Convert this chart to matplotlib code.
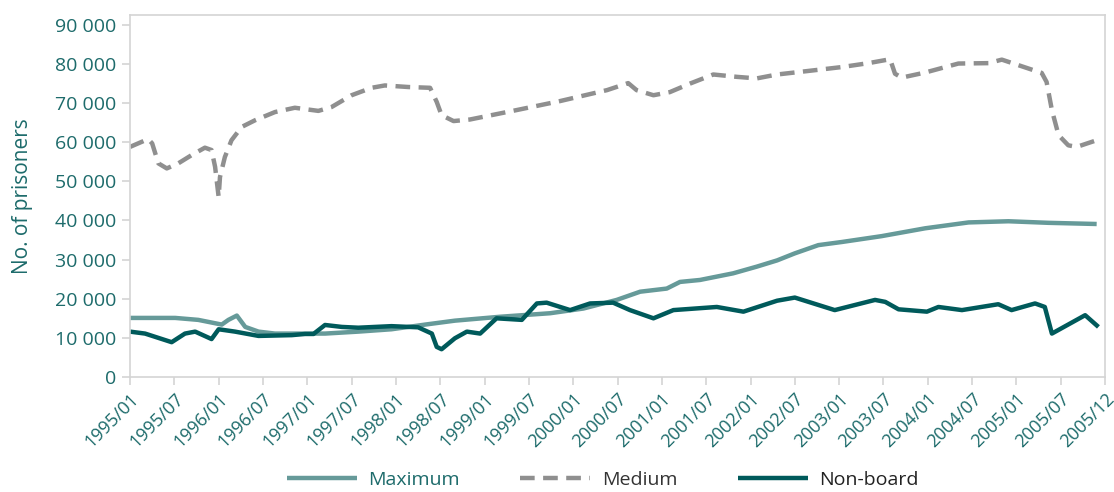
import matplotlib.pyplot as plt
from matplotlib.ticker import FuncFormatter

plt.rcParams['font.family'] = ['Open Sans', 'DejaVu Sans']

# x positions are in half-year steps from 1995/01 (one step per tick label)
tick_labels = ['1995/01', '1995/07', '1996/01', '1996/07', '1997/01', '1997/07',
               '1998/01', '1998/07', '1999/01', '1999/07', '2000/01', '2000/07',
               '2001/01', '2001/07', '2002/01', '2002/07', '2003/01', '2003/07',
               '2004/01', '2004/07', '2005/01', '2005/07', '2005/12']

medium_x = [0.0, 0.41, 0.5, 0.64, 0.83, 1.09, 1.39, 1.69, 1.84, 1.92, 2.0, 2.03,
            2.14, 2.29, 2.52, 2.82, 3.27, 3.72, 4.25, 4.55, 5.0, 5.45, 5.75, 6.28,
            6.77, 6.92, 7.03, 7.3, 7.67, 8.72, 9.7, 10.76, 11.24, 11.43, 11.81,
            12.18, 12.64, 13.16, 13.69, 14.14, 14.6, 15.3, 16.06, 16.66, 17.15,
            17.26, 17.41, 17.94, 18.69, 19.37, 19.67, 20.04, 20.57, 20.68, 20.8,
            20.95, 21.17, 21.36, 21.81]
medium_y = [58800, 60800, 59700, 54600, 53300, 54600, 56700, 58600, 58000, 53700,
            46000, 51100, 56200, 60500, 63900, 65600, 67700, 68800, 68000, 69000,
            72000, 73900, 74500, 74100, 73900, 70300, 66900, 65400, 65800, 68200,
            70500, 73300, 75100, 73300, 72000, 72800, 75000, 77300, 76700, 76300,
            77300, 78200, 79200, 80200, 81200, 77500, 76500, 77800, 80100, 80200,
            81100, 79700, 77700, 75400, 68200, 61800, 59200, 58800, 60500]

maximum_x = [0.0, 1.02, 1.54, 2.07, 2.22, 2.41, 2.6, 2.9, 3.27, 4.4, 5.15, 5.9,
             6.66, 7.33, 8.35, 9.48, 10.23, 10.98, 11.51, 12.11, 12.41, 12.86,
             13.61, 14.14, 14.6, 15.0, 15.53, 16.06, 16.96, 17.94, 18.92, 19.82,
             20.72, 21.81]
maximum_y = [15100, 15100, 14600, 13400, 14600, 15700, 12800, 11600, 11100, 11100,
             11600, 12200, 13400, 14400, 15400, 16300, 17500, 19700, 21800, 22600,
             24300, 24800, 26500, 28200, 29800, 31600, 33700, 34500, 36000, 38000,
             39500, 39800, 39400, 39100]

nonboard_x = [0.0, 0.34, 0.94, 1.24, 1.47, 1.84, 2.0, 2.37, 2.9, 3.65, 3.95, 4.14,
              4.4, 4.78, 5.15, 5.9, 6.5, 6.81, 6.92, 7.03, 7.33, 7.6, 7.9, 8.27,
              8.84, 9.18, 9.4, 9.93, 10.38, 10.9, 11.28, 11.81, 12.26, 13.24,
              13.84, 14.6, 15.0, 15.9, 16.81, 17.04, 17.34, 17.98, 18.24, 18.77,
              19.59, 19.89, 20.42, 20.64, 20.8, 21.55, 21.85]
nonboard_y = [11600, 11100, 8900, 11100, 11600, 9700, 12200, 11600, 10500, 10700,
              11000, 11000, 13300, 12800, 12600, 13000, 12700, 11100, 7700, 7100,
              9900, 11600, 11100, 15000, 14600, 18800, 19000, 17100, 18800, 19000,
              17100, 15000, 17100, 17900, 16700, 19500, 20300, 17100, 19700, 19200,
              17300, 16700, 17900, 17100, 18600, 17100, 18800, 17900, 11100, 15800,
              12800]

teal_text = '#1d6b6b'
grid_grey = '#d4d4d4'

fig = plt.figure(figsize=(11.14, 4.92), dpi=100)
ax = fig.add_axes([0.1167, 0.2337, 0.8753, 0.7358])

ax.plot(maximum_x, maximum_y, color='#669a99', lw=3.2, label='Maximum',
        solid_joinstyle='round', solid_capstyle='butt')
ax.plot(medium_x, medium_y, color='#8f8f8f', lw=3.2, label='Medium',
        linestyle=(0, (3.3, 1.9)), dash_capstyle='butt', dash_joinstyle='round')
ax.plot(nonboard_x, nonboard_y, color='#005a5b', lw=3.2, label='Non-board',
        solid_joinstyle='round', solid_capstyle='butt')

ax.set_xlim(0, len(tick_labels) - 1)
ax.set_ylim(0, 92500)
ax.set_xticks(range(len(tick_labels)))
ax.set_xticklabels(tick_labels, rotation=45, ha='right', rotation_mode='anchor',
                   fontsize=13)
ax.set_yticks(range(0, 90001, 10000))
ax.yaxis.set_major_formatter(FuncFormatter(lambda v, p: f'{int(v):,}'.replace(',', ' ')))

for s in ax.spines.values():
    s.set_color(grid_grey)
    s.set_linewidth(1.2)
ax.tick_params(axis='both', colors=grid_grey, length=6, width=1.2,
               labelcolor=teal_text)
ax.tick_params(axis='x', pad=3)
ax.tick_params(axis='y', pad=4, labelsize=14)
ax.set_ylabel('No. of prisoners', fontsize=15, color=teal_text, labelpad=16)

leg = ax.legend(loc='center', bbox_to_anchor=(0.485, -0.285), ncol=3,
                frameon=False, fontsize=14, handlelength=3.6, columnspacing=3.1,
                handletextpad=0.6)
for t, c in zip(leg.get_texts(), [teal_text, '#333333', '#222222']):
    t.set_color(c)

fig.savefig('out.png', dpi=100)
